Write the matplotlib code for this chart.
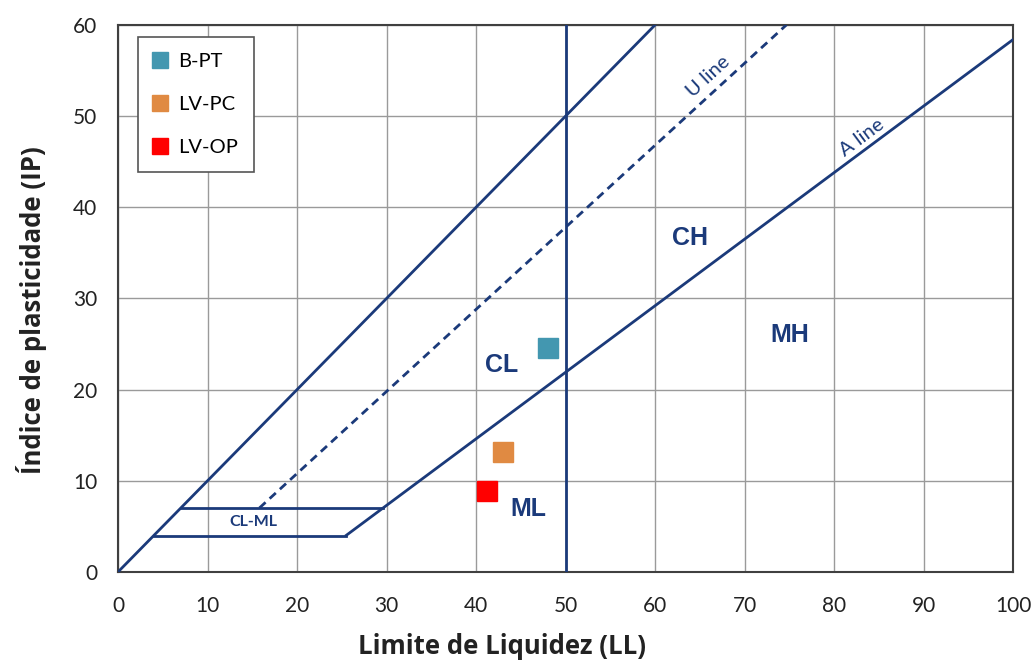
import matplotlib
matplotlib.use("Agg")
import matplotlib.pyplot as plt
import numpy as np

# Sample results (liquid limit, plasticity index)
samples = ["B-PT", "LV-PC", "LV-OP"]
sample_ll = [48.0, 43.0, 41.2]
sample_pi = [24.6, 13.2, 8.9]
sample_colors = ["#4397B0", "#E08A42", "#FF0000"]

# Casagrande chart reference lines
line_color = "#1B3A7A"
a_line_ll = [25.5, 100.0]            # A line: PI = 0.73 (LL - 20)
u_line_ll = [15.8, 74.7]             # U line: PI = 0.9 (LL - 8)
diag_ll = [0.0, 60.0]                # PI = LL
vline_ll = 50.0
hatch_pi = [4.0, 7.0]

zone_labels = ["CL", "CH", "MH", "ML"]
zone_x = [42.9, 63.9, 75.0, 45.8]
zone_y = [22.7, 36.6, 26.0, 6.9]

x_ticks = list(range(0, 101, 10))
y_ticks = list(range(0, 61, 10))

def a_line(ll):
    return 0.73 * (np.asarray(ll) - 20)

def u_line(ll):
    return 0.9 * (np.asarray(ll) - 8)

fig = plt.figure(figsize=(10.36, 6.62), dpi=100)
ax = fig.add_axes([0.1139, 0.1360, 0.8639, 0.8262])

ax.set_xlim(0, 100)
ax.set_ylim(0, 60)
ax.set_xticks(x_ticks)
ax.set_yticks(y_ticks)
ax.grid(True, color="#9A9A9A", linewidth=1.0)
ax.set_axisbelow(True)
for s in ax.spines.values():
    s.set_color("#404040")
    s.set_linewidth(1.5)
ax.tick_params(axis="x", length=0, pad=17, labelsize=15, labelcolor="#222222")
ax.tick_params(axis="y", length=0, pad=15, labelsize=15, labelcolor="#222222")
for lab in ax.get_xticklabels() + ax.get_yticklabels():
    lab.set_fontfamily("Lato")

lw = 2.0
# PI = LL line
ax.plot(diag_ll, diag_ll, color=line_color, lw=lw, zorder=3)
# A line
ax.plot(a_line_ll, a_line(a_line_ll), color=line_color, lw=lw, zorder=3)
# U line
ax.plot(u_line_ll, u_line(u_line_ll), color=line_color, lw=lw,
        linestyle=(0, (3, 2)), zorder=3)
# LL = 50 divider
ax.plot([vline_ll, vline_ll], [0, 60], color=line_color, lw=lw, zorder=3)
# CL-ML band limits
for pi in hatch_pi:
    ll_right = pi / 0.73 + 20
    ax.plot([pi, ll_right], [pi, pi], color=line_color, lw=lw, zorder=3)

# Sample points
for name, x, y, c in zip(samples, sample_ll, sample_pi, sample_colors):
    ax.plot([x], [y], marker="s", markersize=15, color=c, linestyle="none",
            label=name, zorder=5)

# Zone labels
for t, x, y in zip(zone_labels, zone_x, zone_y):
    ax.text(x, y, t, color=line_color, fontsize=18, fontweight="bold",
            fontfamily="Liberation Sans", ha="center", va="center", zorder=4)
ax.text(15.1, 5.5, "CL-ML", color=line_color, fontsize=11.5, fontweight="bold",
        fontfamily="Lato", ha="center", va="center", zorder=4)

ax.text(66.0, 54.3, "U line", color=line_color, fontsize=14.5, fontfamily="Lato",
        rotation=42.5, ha="center", va="center", rotation_mode="anchor", zorder=4)
ax.text(83.1, 47.6, "A line", color=line_color, fontsize=14.5, fontfamily="Lato",
        rotation=36.6, ha="center", va="center", rotation_mode="anchor", zorder=4)

ax.set_xlabel("Limite de Liquidez (LL)", fontsize=18.5, fontweight="bold",
              fontfamily="Open Sans", color="#222222")
ax.set_ylabel("Índice de plasticidade (IP)", fontsize=18.5, fontweight="bold",
              fontfamily="Open Sans", color="#222222")
ax.xaxis.set_label_coords(0.429, -0.137)
ax.yaxis.set_label_coords(-0.097, 0.479)
ax.xaxis.label.set_va("center")
ax.yaxis.label.set_va("center")

leg = ax.legend(loc="upper left", bbox_to_anchor=(0.0223, 0.978), frameon=True,
                fancybox=False, edgecolor="#555555", framealpha=1,
                prop={"family": "Lato", "size": 14.5}, markerscale=0.77,
                handlelength=0.62, handletextpad=0.55, labelspacing=1.28,
                borderpad=0.8, borderaxespad=0)
leg.get_frame().set_linewidth(1.2)
leg.set_zorder(6)

fig.savefig("out.png", dpi=100)
